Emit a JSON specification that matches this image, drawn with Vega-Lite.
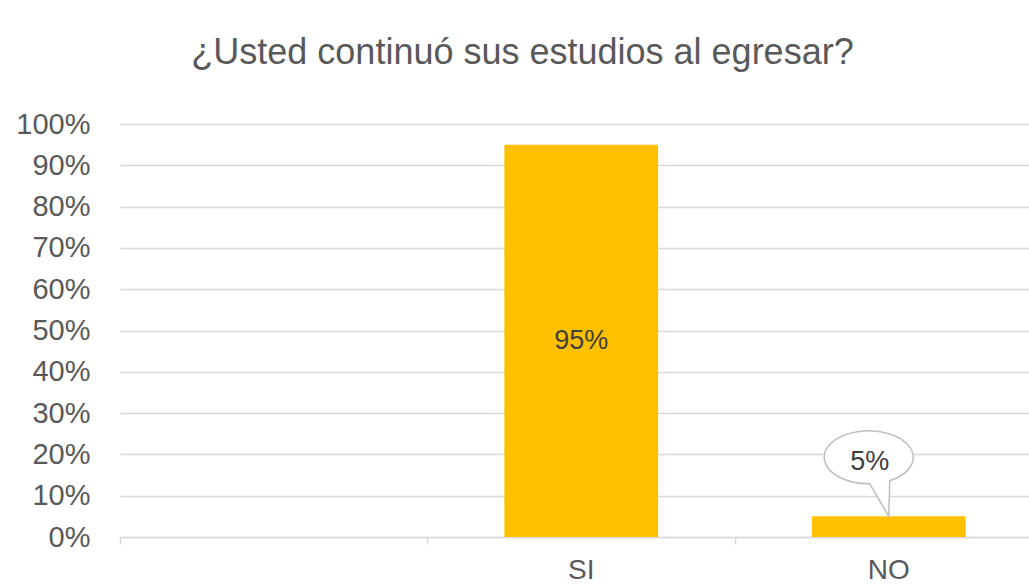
{
  "$schema": "https://vega.github.io/schema/vega-lite/v6.json",
  "autosize": "none",
  "width": 909,
  "height": 413,
  "padding": {"left": 120, "top": 124, "right": 0, "bottom": 47},
  "background": "white",
  "config": {
    "font": "Liberation Sans",
    "view": {"stroke": null}
  },
  "title": {
    "text": "¿Usted continuó sus estudios al egresar?",
    "fontSize": 36,
    "fontWeight": "normal",
    "color": "#595959",
    "font": "Liberation Sans",
    "anchor": "middle",
    "frame": "group",
    "baseline": "alphabetic",
    "offset": 10,
    "dx": -52
  },
  "data": {
    "values": [
      {"respuesta": "SI", "valor": 0.95},
      {"respuesta": "NO", "valor": 0.05}
    ]
  },
  "encoding": {
    "x": {
      "field": "respuesta",
      "type": "nominal",
      "sort": null,
      "scale": {"domain": [" ", "SI", "NO"], "range": [0, 922.5], "paddingInner": 0, "paddingOuter": 0},
      "axis": {
        "title": null,
        "labelAngle": 0,
        "labelFontSize": 28,
        "labelColor": "#595959",
        "labelFont": "Liberation Sans",
        "domainColor": "#d9d9d9",
        "domainWidth": 1.5,
        "tickColor": "#d9d9d9",
        "tickWidth": 1.5,
        "tickSize": 7,
        "bandPosition": 0,
        "labelPadding": 12,
        "grid": false
      }
    },
    "y": {
      "field": "valor",
      "type": "quantitative",
      "scale": {"domain": [0, 1]},
      "axis": {
        "title": null,
        "format": ".0%",
        "values": [0, 0.1, 0.2, 0.3, 0.4, 0.5, 0.6, 0.7, 0.8, 0.9, 1],
        "labelFontSize": 29,
        "labelColor": "#595959",
        "labelFont": "Liberation Sans",
        "domain": false,
        "ticks": false,
        "labelPadding": 30,
        "gridColor": "#d9d9d9",
        "gridWidth": 1.5
      }
    }
  },
  "layer": [
    {
      "mark": {"type": "bar", "color": "#FFC000", "width": {"band": 0.5}}
    },
    {
      "transform": [{"filter": "datum.respuesta === 'NO'"}],
      "mark": {
        "type": "point",
        "filled": true,
        "fill": "white",
        "stroke": "#bfbfbf",
        "strokeWidth": 1.5,
        "opacity": 1,
        "size": 400,
        "shape": "M 0 0 L -1.9 -3.251 A 4.45 2.65 0 1 1 0.1 -3.564 Z"
      }
    },
    {
      "transform": [{"filter": "datum.respuesta === 'NO'"}],
      "mark": {"type": "text", "fontSize": 27, "color": "#404040", "font": "Liberation Sans", "dx": -19, "dy": -54, "baseline": "middle"},
      "encoding": {"text": {"field": "valor", "type": "quantitative", "format": ".0%"}}
    },
    {
      "transform": [{"filter": "datum.respuesta === 'SI'"}],
      "mark": {"type": "text", "fontSize": 27, "color": "#404040", "font": "Liberation Sans", "baseline": "middle"},
      "encoding": {
        "y": {"field": "valor", "type": "quantitative", "stack": "zero", "bandPosition": 0.5},
        "text": {"field": "valor", "type": "quantitative", "format": ".0%"}
      }
    }
  ]
}
